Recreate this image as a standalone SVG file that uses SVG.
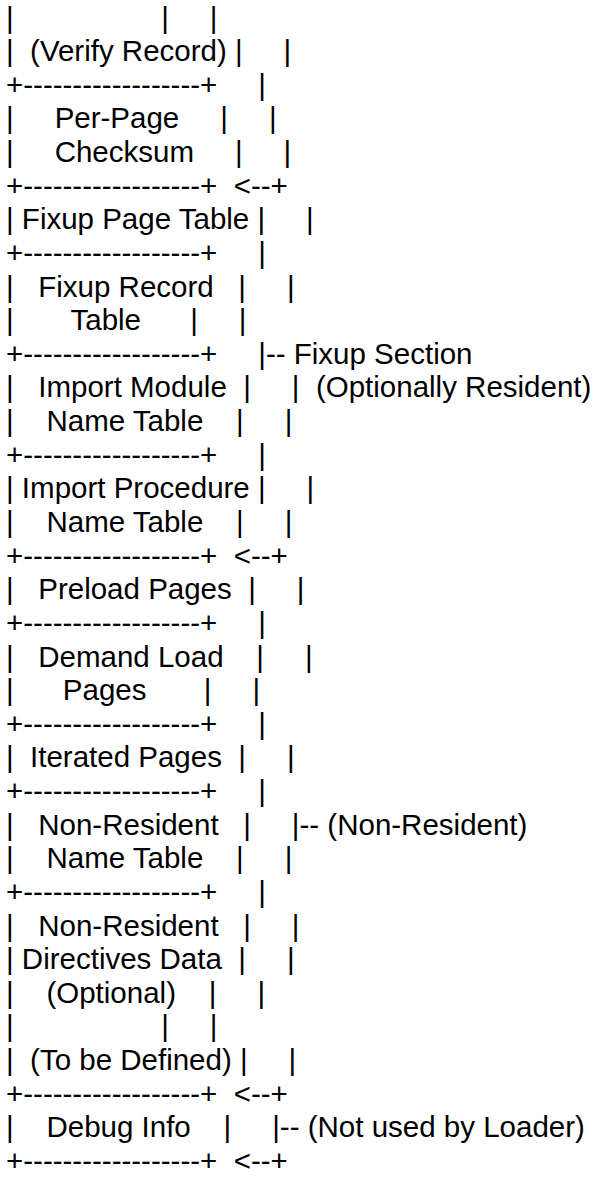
<svg xmlns="http://www.w3.org/2000/svg" width="598" height="1177" viewBox="0 0 598 1177">
<style>
text{font-family:"Liberation Sans",Arial,sans-serif;font-size:29.5px;fill:#000;white-space:pre}
</style>
<rect width="598" height="1177" fill="#fff"/>
<g id="ascii" xml:space="preserve">
<text x="6" y="27.5">|                  |     |</text>
<text x="6" y="61.1">|  (Verify Record) |     |</text>
<text x="6" y="94.8">+------------------+     |</text>
<text x="6" y="128.4">|     Per-Page     |     |</text>
<text x="6" y="162">|     Checksum     |     |</text>
<text x="6" y="195.7">+------------------+  &lt;--+</text>
<text x="6" y="229.3">| Fixup Page Table |     |</text>
<text x="6" y="262.9">+------------------+     |</text>
<text x="6" y="296.5">|   Fixup Record   |     |</text>
<text x="6" y="330.2">|       Table      |     |</text>
<text x="6" y="363.8">+------------------+     |-- Fixup Section</text>
<text x="6" y="397.4">|   Import Module  |     |  (Optionally Resident)</text>
<text x="6" y="431.1">|    Name Table    |     |</text>
<text x="6" y="464.7">+------------------+     |</text>
<text x="6" y="498.3">| Import Procedure |     |</text>
<text x="6" y="532">|    Name Table    |     |</text>
<text x="6" y="565.6">+------------------+  &lt;--+</text>
<text x="6" y="599.2">|   Preload Pages  |     |</text>
<text x="6" y="632.8">+------------------+     |</text>
<text x="6" y="666.5">|   Demand Load    |     |</text>
<text x="6" y="700.1">|      Pages       |     |</text>
<text x="6" y="733.7">+------------------+     |</text>
<text x="6" y="767.4">|  Iterated Pages  |     |</text>
<text x="6" y="801">+------------------+     |</text>
<text x="6" y="834.6">|   Non-Resident   |     |-- (Non-Resident)</text>
<text x="6" y="868.3">|    Name Table    |     |</text>
<text x="6" y="901.9">+------------------+     |</text>
<text x="6" y="935.5">|   Non-Resident   |     |</text>
<text x="6" y="969.1">| Directives Data  |     |</text>
<text x="6" y="1002.8">|    (Optional)    |     |</text>
<text x="6" y="1036.4">|                  |     |</text>
<text x="6" y="1070">|  (To be Defined) |     |</text>
<text x="6" y="1103.7">+------------------+  &lt;--+</text>
<text x="6" y="1137.3">|    Debug Info    |     |-- (Not used by Loader)</text>
<text x="6" y="1170.9">+------------------+  &lt;--+</text>
</g>
</svg>
